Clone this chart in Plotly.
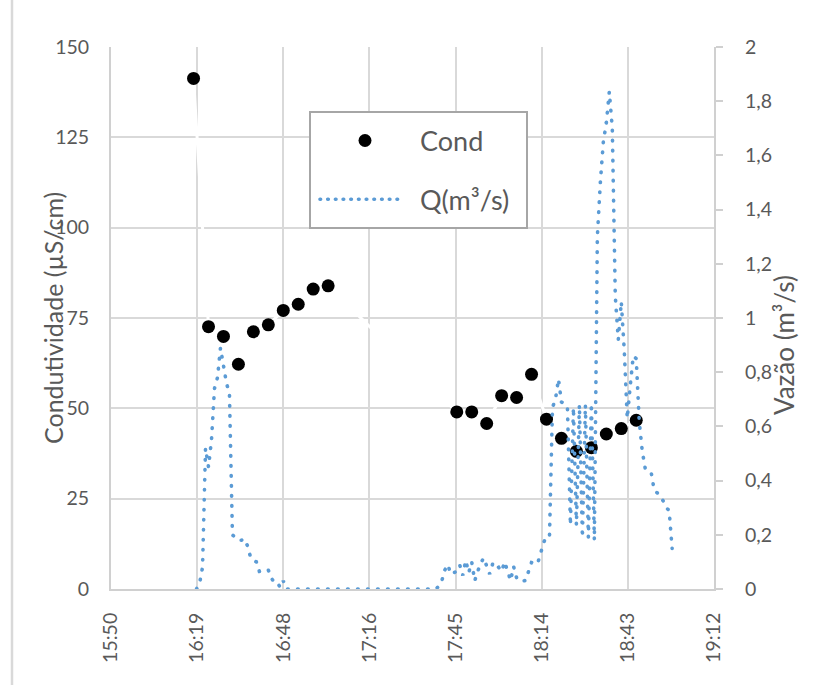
import plotly.graph_objects as go

# Conductivity readings (time of day, µS/cm)
cond_times = ["16:18", "16:23", "16:28", "16:33", "16:38", "16:43", "16:48", "16:53",
              "16:58", "17:03", "17:46", "17:51", "17:56", "18:01", "18:06", "18:11",
              "18:16", "18:21", "18:26", "18:31", "18:36", "18:41", "18:46"]
cond_values = [141.3, 72.6, 69.9, 62.2, 71.2, 73.1, 77.1, 78.8, 83.0, 83.9,
               49.0, 49.0, 45.8, 53.5, 53.0, 59.4, 47.0, 41.7, 38.1, 39.1, 42.9, 44.4, 46.7]

# Discharge record (time of day, m³/s)
q_times = ["16:19", "16:20", "16:21", "16:22", "16:23", "16:24", "16:25", "16:26", "16:27",
           "16:28", "16:29", "16:30", "16:31", "16:32", "16:33", "16:34", "16:35", "16:36",
           "16:37", "16:38", "16:39", "16:40", "16:41", "16:42", "16:43", "16:44", "16:45",
           "16:46", "16:47", "16:48", "16:49", "17:00", "17:10", "17:20", "17:30", "17:39",
           "17:40", "17:41", "17:42", "17:43", "17:44", "17:45", "17:46", "17:47", "17:48",
           "17:49", "17:50", "17:51", "17:52", "17:53", "17:54", "17:55", "17:56", "17:57",
           "17:58", "17:59", "18:00", "18:01", "18:02", "18:03", "18:04", "18:05", "18:06",
           "18:07", "18:08", "18:09", "18:10", "18:11", "18:12", "18:13", "18:14", "18:15",
           "18:16", "18:17", "18:18", "18:19", "18:20", "18:21", "18:22", "18:23", "18:24",
           "18:25", "18:26", "18:27", "18:28", "18:29", "18:30", "18:31", "18:32", "18:33",
           "18:34", "18:35", "18:36", "18:37", "18:38", "18:39", "18:40", "18:41", "18:42",
           "18:43", "18:44", "18:45", "18:46", "18:47", "18:48", "18:49", "18:50", "18:51",
           "18:52", "18:53", "18:54", "18:55", "18:56", "18:57", "18:58"]
q_values = [0.00, 0.02, 0.08, 0.52, 0.45, 0.55, 0.74, 0.78, 0.89,
            0.83, 0.76, 0.72, 0.20, 0.19, 0.18, 0.18, 0.185, 0.16,
            0.12, 0.105, 0.10, 0.065, 0.065, 0.065, 0.07, 0.04, 0.025,
            0.025, 0.005, 0.03, 0.00, 0.00, 0.00, 0.00, 0.00, 0.00,
            0.01, 0.03, 0.07, 0.09, 0.055, 0.06, 0.065, 0.088, 0.05,
            0.105, 0.06, 0.10, 0.03, 0.065, 0.095, 0.115, 0.08, 0.055,
            0.093, 0.075, 0.08, 0.065, 0.10, 0.068, 0.031, 0.083, 0.041,
            0.029, 0.03, 0.031, 0.065, 0.098, 0.097, 0.093, 0.13, 0.17,
            0.195, 0.195, 0.67, 0.70, 0.775, 0.69, 0.685, 0.67, 0.235,
            0.67, 0.235, 0.68, 0.19, 0.68, 0.19, 0.685, 0.18, 1.30,
            1.50, 1.65, 1.72, 1.835, 1.70, 1.08, 0.92, 1.06, 0.88,
            0.63, 0.75, 0.86, 0.85, 0.62, 0.51, 0.445, 0.44, 0.43,
            0.365, 0.355, 0.345, 0.325, 0.30, 0.29, 0.15]

# Time axis (fraction of a day) and tick labels
x_tick_values = [0.66, 0.68, 0.70, 0.72, 0.74, 0.76, 0.78, 0.80]
x_tick_labels = ["15:50", "16:19", "16:48", "17:16", "17:45", "18:14", "18:43", "19:12"]
y_tick_values = [0, 25, 50, 75, 100, 125, 150]
y2_tick_values = [0, 0.2, 0.4, 0.6, 0.8, 1.0, 1.2, 1.4, 1.6, 1.8, 2.0]
y2_tick_labels = ["0", "0,2", "0,4", "0,6", "0,8", "1", "1,2", "1,4", "1,6", "1,8", "2"]


def day_fraction(hhmm):
    h, m = hhmm.split(":")
    return (int(h) * 60 + int(m)) / 1440.0


W, H = 839, 685
ML, MR, MT, MB = 111, 125, 47, 96
PW, PH = W - ML - MR, H - MT - MB


def px(xp):
    return (xp - ML) / PW


def py(yp):
    return (H - MB - yp) / PH


TEXT = "#595959"
GRID = "#d9d9d9"
AXIS = "#d0d0d0"
BLUE = "#5b9bd5"
FONT = "Lato"

fig = go.Figure()

fig.add_trace(go.Scatter(
    x=[day_fraction(t) for t in cond_times], y=cond_values,
    mode="lines+markers", name="Cond",
    line=dict(color="white", width=3),
    marker=dict(color="black", size=13, line=dict(width=0)),
    yaxis="y", showlegend=False,
))

fig.add_trace(go.Scatter(
    x=[day_fraction(t) for t in q_times], y=q_values,
    mode="lines", name="Q(m³/s)",
    line=dict(color=BLUE, width=3.6, dash="0.6px,9.4px"),
    yaxis="y2", showlegend=False,
))

tickfont = dict(family=FONT, size=19.5, color=TEXT)

fig.update_layout(
    width=W, height=H,
    margin=dict(l=ML, r=MR, t=MT, b=MB, pad=0),
    paper_bgcolor="white", plot_bgcolor="white",
    separators=",.",
    xaxis=dict(
        range=[0.66, 0.80], tickmode="array", tickvals=x_tick_values, ticktext=x_tick_labels,
        tickangle=-90, tickfont=tickfont, ticks="", showgrid=True, gridcolor=GRID, gridwidth=2,
        showline=True, linecolor=AXIS, linewidth=2, mirror=False, zeroline=False,
        ticklabelstandoff=14,
    ),
    yaxis=dict(
        range=[0, 150], tickmode="array", tickvals=y_tick_values, tickfont=tickfont, ticks="",
        showgrid=True, gridcolor=GRID, gridwidth=2, showline=True, linecolor=AXIS, linewidth=2,
        zeroline=False, ticklabelstandoff=16,
    ),
    yaxis2=dict(
        range=[0, 2], overlaying="y", side="right", tickmode="array", tickvals=y2_tick_values,
        ticktext=y2_tick_labels, tickfont=tickfont, ticks="outside", ticklen=7, tickwidth=2,
        tickcolor=AXIS, showgrid=False, showline=True, linecolor=AXIS, linewidth=2,
        zeroline=False, ticklabelstandoff=18,
    ),
    showlegend=False,
)

# Axis titles
fig.add_annotation(text="Condutividade (µS/cm)", xref="paper", yref="paper",
                   x=px(36), y=py(318), textangle=-90, showarrow=False,
                   font=dict(family=FONT, size=25, color=TEXT))
fig.add_annotation(text="Vazão (m³/s)", xref="paper", yref="paper",
                   x=px(802), y=py(345), textangle=-90, showarrow=False,
                   font=dict(family=FONT, size=26, color=TEXT))

# Legend box
fig.add_shape(type="rect", xref="paper", yref="paper",
              x0=px(310), x1=px(527), y0=py(228), y1=py(112),
              line=dict(color="#a6a6a6", width=2), fillcolor="white", layer="above")
fig.add_shape(type="circle", xref="paper", yref="paper", xsizemode="pixel", ysizemode="pixel",
              xanchor=px(365), yanchor=py(140.5), x0=-6.5, x1=6.5, y0=-6.5, y1=6.5,
              line=dict(width=0), fillcolor="black", layer="above")
fig.add_shape(type="line", xref="paper", yref="paper",
              x0=px(320), x1=px(402), y0=py(199.3), y1=py(199.3),
              line=dict(color=BLUE, width=3.6, dash="0.6px,7.1px"), layer="above")
fig.add_annotation(text="Cond", xref="paper", yref="paper", x=px(418), y=py(140),
                   xanchor="left", yanchor="middle", showarrow=False,
                   font=dict(family=FONT, size=27, color=TEXT))
fig.add_annotation(text="Q(m³/s)", xref="paper", yref="paper", x=px(418), y=py(199),
                   xanchor="left", yanchor="middle", showarrow=False,
                   font=dict(family=FONT, size=27, color=TEXT))

# Chart area border (left edge)
fig.add_shape(type="line", xref="paper", yref="paper",
              x0=px(12), x1=px(12), y0=py(-5), y1=py(690),
              line=dict(color=GRID, width=2.5), layer="above")

round_caps = (
    "var s=document.createElement('style');"
    "s.textContent='.js-line, .shapelayer path{stroke-linecap:round;}';"
    "document.head.appendChild(s);"
)

fig.write_html("out.html", post_script=round_caps)
